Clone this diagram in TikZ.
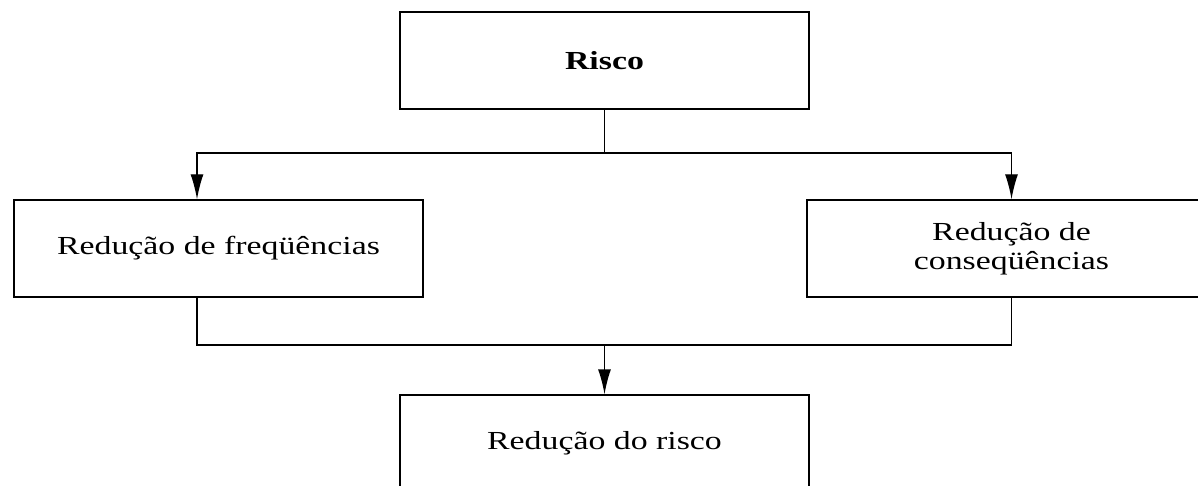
\documentclass[tikz,border=0pt]{standalone}
\usepackage{fontspec}
\setmainfont{Liberation Serif}[FakeStretch=1.3]
\usetikzlibrary{arrows.meta}
\begin{document}
\begin{tikzpicture}[x=0.5pt,y=-0.5pt,line width=0.7pt,
	box/.style={draw,minimum width=204.5pt,minimum height=48.5pt,inner sep=0,align=center,font=\fontsize{13}{14.5}\selectfont},
	arr/.style={-{Latex[length=12.5pt,width=6.5pt]}}]
	\clip(0,0)rectangle(1198,486);
	\node(risco)[box] at (604.5,60.5){\textbf{Risco}};
	\node(freq)[box] at (218.5,248.5){Redução de freqüências};
	\node(conseq)[box] at (1011.5,248.5){Redução de\\conseqüências};
	\node(reducao)[box] at (604.5,443.5){Redução do risco};
	\coordinate(split) at (604.5,153);
	\coordinate(join) at (604.5,345);
	\draw(risco.south)--(split);
	\draw[arr](split)-|([xshift=-10.75pt]freq.north);
	\draw[arr](split)-|(conseq.north);
	\draw([xshift=-10.75pt]freq.south)|-(join);
	\draw(conseq.south)|-(join);
	\draw[arr](join)--(reducao.north);
\end{tikzpicture}
\end{document}
